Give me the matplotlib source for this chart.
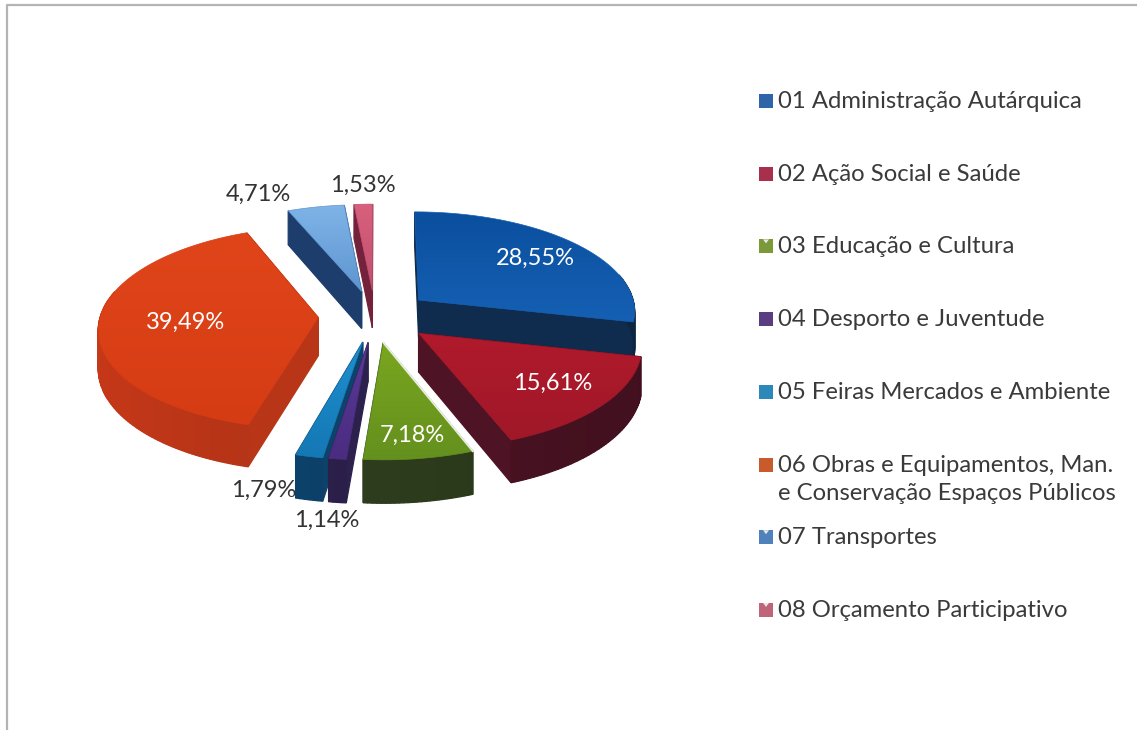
import numpy as np
import matplotlib
matplotlib.use("Agg")
import matplotlib.pyplot as plt
from matplotlib.colors import to_rgb
from matplotlib.patches import Polygon, Rectangle

plt.rcParams['font.family'] = ['Lato', 'DejaVu Sans']

categories = [
    "01 Administração Autárquica",
    "02 Ação Social e Saúde",
    "03 Educação e Cultura",
    "04 Desporto e Juventude",
    "05 Feiras Mercados e Ambiente",
    "06 Obras e Equipamentos, Man.\ne Conservação Espaços Públicos",
    "07 Transportes",
    "08 Orçamento Participativo",
]
values = [28.55, 15.61, 7.18, 1.14, 1.79, 39.49, 4.71, 1.53]

legend_colors = ['#2e64a8', '#a8304c', '#7a9a3a', '#5a3d80', '#2c88b8', '#c85a2c', '#4f81bd', '#c0647a']
# haut de la part (arriere, avant) et flanc
top_colors = [('#0b4f9e', '#1560b4'), ('#b01a2c', '#a01828'), ('#7aa620', '#64901e'), ('#5a3a98', '#4a2c80'),
              ('#1f8fd0', '#1478b4'), ('#e0451a', '#d63c14'), ('#7fb4e8', '#5f96d0'), ('#d8607c', '#c05070')]
side_colors = ['#0e2a4a', '#4a1222', '#2c3c1c', '#2a1f48', '#0c3f66', '#b03216', '#1c3a68', '#6e2038']

# position des etiquettes en pixels, couleur du texte
label_pos = [(535, 258), (553, 383), (412, 435), (327, 520), (264, 490), (186, 322), (258, 194), (363, 185)]
label_col = ['white', 'white', 'white', '#333333', '#333333', 'white', '#333333', '#333333']

# geometrie du camembert (pixels)
CX, CY = 375, 316
RX, RY = 218, 100
PERSP = 0.10
EXPLODE = 0.26
DEPTH = 38


def project(u, v, down=0.0):
    # plan du camembert vers pixels, le fond plus proche paraît plus grand
    s = 1.0 / (1.0 + PERSP * v)
    return CX + u * s * RX, CY - v * s * RY + down * s


def slice_points(a0, a1):
    mid = (a0 + a1) / 2
    ou, ov = EXPLODE * np.sin(mid), EXPLODE * np.cos(mid)
    angles = np.linspace(a0, a1, max(int(np.degrees(a1 - a0)), 2) + 1)
    return ou, ov, ou + np.sin(angles), ov + np.cos(angles)


def quad(ax, p0, p1, down, color, z):
    x0, y0 = project(*p0)
    x1, y1 = project(*p1)
    x2, y2 = project(*p1, down)
    x3, y3 = project(*p0, down)
    ax.add_patch(Polygon([(x0, y0), (x1, y1), (x2, y2), (x3, y3)], closed=True, fc=color, ec=color, lw=0.9, zorder=z))


def shade(color, k):
    return tuple(min(1, c * k) for c in to_rgb(color))


def gradient_face(ax, pts, back, front, z):
    # degrade vertical limite au polygone de la part
    xs, ys = pts[:, 0], pts[:, 1]
    c0, c1 = np.array(to_rgb(back)), np.array(to_rgb(front))
    t = np.linspace(0, 1, 64)[:, None, None]
    img = c0[None, None, :] * (1 - t) + c1[None, None, :] * t
    im = ax.imshow(img, extent=(xs.min(), xs.max(), ys.max(), ys.min()), aspect='auto', zorder=z, interpolation='bilinear')
    patch = Polygon(pts, closed=True, transform=ax.transData, fc='none', ec='none')
    ax.add_patch(patch)
    im.set_clip_path(patch)
    ax.add_patch(Polygon(pts, closed=True, fc='none', ec=front, lw=0.5, zorder=z))


fig = plt.figure(figsize=(11.37, 7.30), dpi=100)
ax = fig.add_axes([0, 0, 1, 1])

fractions = np.array(values) / sum(values)
edges = np.concatenate([[0], np.cumsum(fractions)]) * 2 * np.pi

# ordre de dessin : du fond vers l'avant
order = [7, 6, 0, 5, 1, 4, 3, 2]
for z, i in enumerate(order):
    ou, ov, us, vs = slice_points(edges[i], edges[i + 1])
    base = z * 3 + 2
    # faces coupees
    cut = shade(side_colors[i], 1.05)
    quad(ax, (ou, ov), (us[0], vs[0]), DEPTH, cut, base)
    quad(ax, (ou, ov), (us[-1], vs[-1]), DEPTH, cut, base)
    # flanc exterieur, un peu plus sombre vers la droite
    for k in range(len(us) - 1):
        if vs[k] - ov > 0.25 and vs[k + 1] - ov > 0.25:
            continue
        f = 1.0 - 0.12 * np.sin(edges[i] + k * (edges[i + 1] - edges[i]) / (len(us) - 1))
        quad(ax, (us[k], vs[k]), (us[k + 1], vs[k + 1]), DEPTH, shade(side_colors[i], f), base + 1)
    px, py = project(np.r_[ou, us], np.r_[ov, vs])
    gradient_face(ax, np.column_stack([px, py]), top_colors[i][0], top_colors[i][1], base + 2)
    if i == 2:
        # liseré clair entre le vert et le rouge
        ax.plot(px[:2], py[:2], color='#e8eee0', lw=1.4, zorder=base + 2)

for i, v in enumerate(values):
    ax.text(label_pos[i][0], label_pos[i][1], f"{v:.2f}%".replace('.', ','), color=label_col[i],
            fontsize=17, ha='center', va='center', zorder=60)

# legende manuelle, pas constant entre les lignes
for i, name in enumerate(categories):
    y = 101 + i * 72.7
    ax.add_patch(Rectangle((759, y - 7), 14, 14, fc=legend_colors[i], ec='none', zorder=60))
    if i in (2, 6, 7):
        # petite encoche claire laissee par le scan
        ax.add_patch(Polygon([(763, y - 7), (769, y - 7), (766, y - 3)], closed=True, fc='#e8e8e8', ec='none', zorder=61))
    ax.text(778, y - 10, name, color='#3a3a3a', fontsize=17.2, ha='left', va='top', linespacing=1.42, zorder=60)

# cadre du scan
ax.plot([7, 7, 1137], [730, 5, 5], color='#b4b4b4', lw=1.6, zorder=1)

ax.set_xlim(0, 1137)
ax.set_ylim(730, 0)
ax.axis('off')
fig.savefig("out.png", dpi=100)
